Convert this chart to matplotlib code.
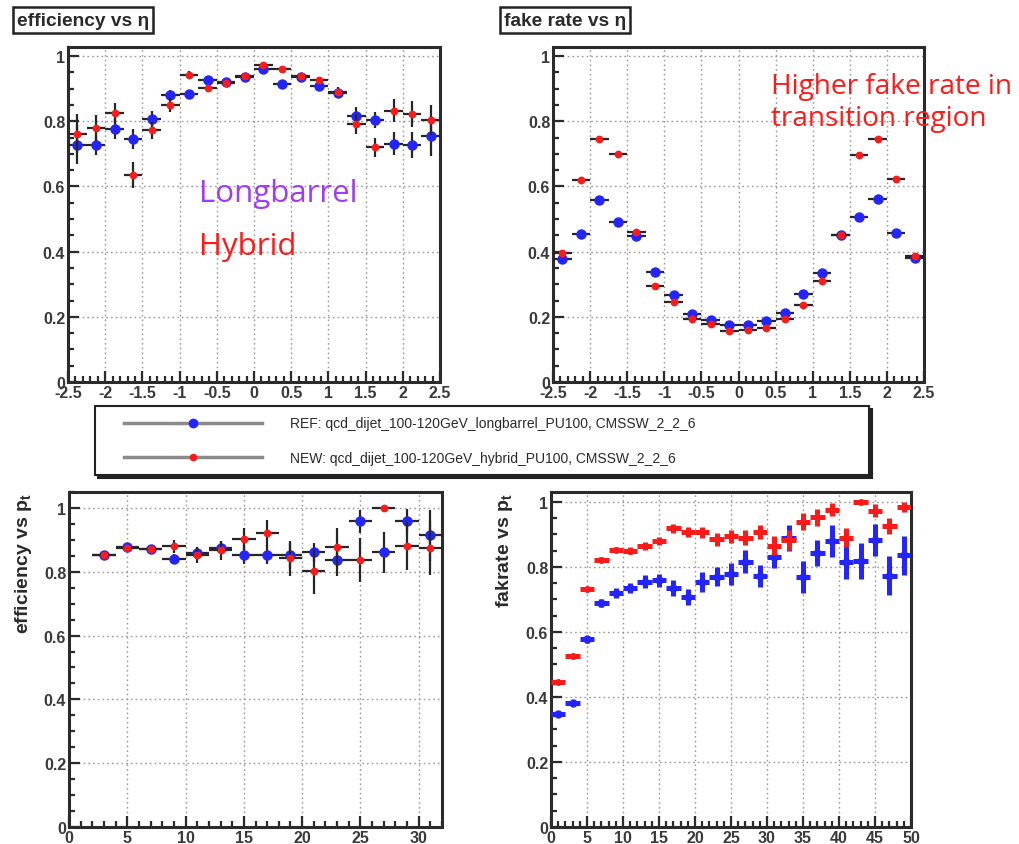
import numpy as np
import matplotlib
matplotlib.use("Agg")
import matplotlib.pyplot as plt
from matplotlib.ticker import MultipleLocator
from matplotlib.lines import Line2D
from matplotlib.legend_handler import HandlerLine2D

# ---- data -------------------------------------------------------------
eta_centers = [-2.375, -2.125, -1.875, -1.625, -1.375, -1.125, -0.875, -0.625, -0.375, -0.125,
               0.125, 0.375, 0.625, 0.875, 1.125, 1.375, 1.625, 1.875, 2.125, 2.375]
eta_halfwidth = 0.125

eff_eta_ref = [0.728, 0.728, 0.777, 0.745, 0.807, 0.882, 0.884, 0.927, 0.920, 0.937,
               0.961, 0.914, 0.936, 0.907, 0.887, 0.815, 0.803, 0.731, 0.728, 0.755]
eff_eta_ref_err = [0.06, 0.03, 0.03, 0.03, 0.025, 0.015, 0.012, 0.01, 0.01, 0.008,
                   0.008, 0.008, 0.008, 0.01, 0.012, 0.03, 0.025, 0.035, 0.04, 0.06]
eff_eta_new = [0.762, 0.779, 0.825, 0.636, 0.772, 0.850, 0.942, 0.901, 0.918, 0.940,
               0.973, 0.961, 0.940, 0.927, 0.889, 0.791, 0.720, 0.832, 0.823, 0.804]
eff_eta_new_err = [0.06, 0.04, 0.03, 0.04, 0.025, 0.02, 0.012, 0.01, 0.01, 0.008,
                   0.008, 0.008, 0.008, 0.01, 0.015, 0.03, 0.03, 0.035, 0.04, 0.045]

fake_eta_ref = [0.377, 0.454, 0.559, 0.491, 0.448, 0.338, 0.267, 0.210, 0.190, 0.175,
                0.175, 0.187, 0.212, 0.270, 0.336, 0.452, 0.505, 0.563, 0.458, 0.379]
fake_eta_ref_err = [0.006] * 20
fake_eta_new = [0.396, 0.619, 0.746, 0.701, 0.460, 0.296, 0.244, 0.193, 0.177, 0.156,
                0.159, 0.165, 0.193, 0.236, 0.311, 0.450, 0.698, 0.746, 0.623, 0.388]
fake_eta_new_err = [0.005] * 20

pt_eff_centers = [3, 5, 7, 9, 11, 13, 15, 17, 19, 21, 23, 25, 27, 29, 31]
pt_halfwidth = 1.0
eff_pt_ref = [0.853, 0.877, 0.872, 0.840, 0.859, 0.875, 0.853, 0.853, 0.851, 0.861,
              0.837, 0.958, 0.861, 0.958, 0.914]
eff_pt_ref_err = [0.005, 0.008, 0.01, 0.015, 0.02, 0.02, 0.03, 0.03, 0.04, 0.03,
                  0.05, 0.035, 0.065, 0.04, 0.08]
eff_pt_new = [0.853, 0.876, 0.872, 0.880, 0.854, 0.867, 0.902, 0.922, 0.842, 0.801,
              0.877, 0.837, 1.000, 0.880, 0.874]
eff_pt_new_err = [0.005, 0.008, 0.01, 0.02, 0.025, 0.03, 0.035, 0.04, 0.055, 0.07,
                  0.06, 0.07, 0.0, 0.075, 0.085]

pt_fake_centers = [1, 3, 5, 7, 9, 11, 13, 15, 17, 19, 21, 23, 25, 27, 29, 31, 33, 35, 37,
                   39, 41, 43, 45, 47, 49]
fake_pt_ref = [0.347, 0.381, 0.577, 0.688, 0.720, 0.736, 0.754, 0.759, 0.735, 0.707,
               0.754, 0.770, 0.778, 0.816, 0.772, 0.831, 0.890, 0.769, 0.842, 0.880,
               0.816, 0.819, 0.883, 0.773, 0.836]
fake_pt_ref_err = [0.005, 0.007, 0.01, 0.012, 0.015, 0.015, 0.02, 0.02, 0.025, 0.025,
                   0.03, 0.03, 0.035, 0.035, 0.035, 0.035, 0.04, 0.05, 0.04, 0.05,
                   0.055, 0.055, 0.05, 0.06, 0.06]
fake_pt_new = [0.445, 0.527, 0.732, 0.822, 0.852, 0.850, 0.865, 0.879, 0.918, 0.906,
               0.906, 0.885, 0.894, 0.890, 0.906, 0.865, 0.883, 0.939, 0.952, 0.975,
               0.890, 1.000, 0.972, 0.926, 0.983]
fake_pt_new_err = [0.004, 0.005, 0.006, 0.007, 0.008, 0.01, 0.012, 0.013, 0.014, 0.015,
                   0.017, 0.02, 0.02, 0.022, 0.022, 0.03, 0.03, 0.025, 0.025, 0.02,
                   0.03, 0.003, 0.02, 0.025, 0.015]

ref_label = "REF: qcd_dijet_100-120GeV_longbarrel_PU100, CMSSW_2_2_6"
new_label = "NEW: qcd_dijet_100-120GeV_hybrid_PU100, CMSSW_2_2_6"

# ---- style --------------------------------------------------------------
BLUE = "#2424ff"
RED = "#ff1a1a"
FRAME = "#2b2b2b"
LABEL_FONT = "Liberation Sans"

W, H = 1019, 845
fig = plt.figure(figsize=(W / 100, H / 100), dpi=100)


def box(x0, y0, x1, y1):
    """Axes rectangle from pixel edges (top-left origin)."""
    return [x0 / W, 1 - y1 / H, (x1 - x0) / W, (y1 - y0) / H]


def fmt_label(v, pos=None):
    if abs(v - round(v)) < 1e-9:
        return "%d" % round(v)
    return "%g" % v


def style_axes(ax, xlim, ylim, xmajor, xminor):
    ax.set_xlim(*xlim)
    ax.set_ylim(*ylim)
    ax.xaxis.set_major_locator(MultipleLocator(xmajor))
    ax.xaxis.set_minor_locator(MultipleLocator(xminor))
    ax.yaxis.set_major_locator(MultipleLocator(0.2))
    ax.yaxis.set_minor_locator(MultipleLocator(0.05))
    ax.xaxis.set_major_formatter(fmt_label)
    ax.yaxis.set_major_formatter(fmt_label)
    ax.tick_params(which="both", direction="in", top=False, right=False,
                   color=FRAME, width=1.6)
    ax.tick_params(which="major", length=8, pad=2)
    ax.tick_params(which="minor", length=4)
    for lab in ax.get_xticklabels() + ax.get_yticklabels():
        lab.set_fontfamily(LABEL_FONT)
        lab.set_fontweight("bold")
        lab.set_fontsize(11.5)
        lab.set_color("#3a3a3a")
    ax.grid(True, which="major", color="#9a9a9a", linestyle=(0, (1.2, 2.2)), linewidth=1.0)
    ax.set_axisbelow(True)
    for s in ax.spines.values():
        s.set_linewidth(2.2)
        s.set_color(FRAME)


def draw_pair(ax, x, hw, yr, er, yn, en, colored=False):
    xe = [hw] * len(x)
    if colored:
        ax.errorbar(x, yr, yerr=er, xerr=xe, fmt="o", color=BLUE, ms=5,
                    ecolor=BLUE, elinewidth=3.6, capsize=0, zorder=3)
        ax.errorbar(x, yn, yerr=en, xerr=xe, fmt="o", color=RED, ms=4,
                    ecolor=RED, elinewidth=3.6, capsize=0, zorder=4)
    else:
        ax.errorbar(x, yr, yerr=er, xerr=xe, fmt="o", color=BLUE, ms=6.5,
                    ecolor="#262626", elinewidth=1.6, capsize=0, zorder=3)
        ax.errorbar(x, yn, yerr=en, xerr=xe, fmt="o", color=RED, ms=4.6,
                    ecolor="#262626", elinewidth=1.6, capsize=0, zorder=4)


# ---- top left: efficiency vs eta ----------------------------------------
ax1 = fig.add_axes(box(68, 48, 440, 383))
draw_pair(ax1, eta_centers, eta_halfwidth, eff_eta_ref, eff_eta_ref_err,
          eff_eta_new, eff_eta_new_err)
style_axes(ax1, (-2.5, 2.5), (0, 1.028), 0.5, 0.1)
ax1.text(-0.74, 0.554, "Longbarrel", color="#a03cf5", fontsize=22.5, family="Open Sans")
ax1.text(-0.74, 0.394, "Hybrid", color=RED, fontsize=22.5, family="Open Sans")

# ---- top right: fake rate vs eta ----------------------------------------
ax2 = fig.add_axes(box(553, 48, 924, 383))
draw_pair(ax2, eta_centers, eta_halfwidth, fake_eta_ref, fake_eta_ref_err,
          fake_eta_new, fake_eta_new_err)
style_axes(ax2, (-2.5, 2.5), (0, 1.028), 0.5, 0.1)
ax2.text(0.44, 0.886, "Higher fake rate in", color=RED, fontsize=20.2, family="Open Sans",
         clip_on=False)
ax2.text(0.44, 0.79, "transition region", color=RED, fontsize=20.2, family="Open Sans",
         clip_on=False)

# ---- bottom left: efficiency vs pt ---------------------------------------
ax3 = fig.add_axes(box(69, 493, 442, 828))
draw_pair(ax3, pt_eff_centers, pt_halfwidth, eff_pt_ref, eff_pt_ref_err,
          eff_pt_new, eff_pt_new_err)
style_axes(ax3, (0, 32), (0, 1.05), 5, 1)
ax3.set_ylabel("efficiency vs p$_{\\mathregular{t}}$", loc="top", fontsize=14,
               fontweight="bold", family=LABEL_FONT, color="#2a2a2a")
ax3.yaxis.set_label_coords(-0.095, 1.0)

# ---- bottom right: fake rate vs pt ---------------------------------------
ax4 = fig.add_axes(box(551, 493, 911, 828))
draw_pair(ax4, pt_fake_centers, pt_halfwidth, fake_pt_ref, fake_pt_ref_err,
          fake_pt_new, fake_pt_new_err, colored=True)
style_axes(ax4, (0, 50), (0, 1.03), 5, 1)
ax4.set_ylabel("fakrate vs p$_{\\mathregular{t}}$", loc="top", fontsize=14,
               fontweight="bold", family=LABEL_FONT, color="#2a2a2a")
ax4.yaxis.set_label_coords(-0.1, 1.0)

# ---- pad titles -----------------------------------------------------------
title_box = dict(boxstyle="square,pad=0.22", facecolor="white", edgecolor="#222222",
                 linewidth=1.8)
fig.text(17 / W, 1 - 21 / H, "efficiency vs \u03b7", fontsize=13.8, fontweight="bold",
         family=LABEL_FONT, color="#2a2a2a", va="center", ha="left", bbox=title_box)
fig.text(504 / W, 1 - 21 / H, "fake rate vs \u03b7", fontsize=13.8, fontweight="bold",
         family=LABEL_FONT, color="#2a2a2a", va="center", ha="left", bbox=title_box)

# ---- shared legend ---------------------------------------------------------
handles = [
    Line2D([0], [0], color="#8a8a8a", lw=2.5, marker="o", ms=6, mfc=BLUE, mec=BLUE),
    Line2D([0], [0], color="#8a8a8a", lw=2.5, marker="o", ms=4.5, mfc=RED, mec=RED),
]
pad_handler = HandlerLine2D(xpad=1.37)
leg = fig.legend(handles, [ref_label, new_label], loc="upper left",
                 bbox_to_anchor=(95 / W, 1 - 473 / H, 774 / W, 66 / H), mode="expand",
                 fontsize=10, handlelength=11.3, handletextpad=2.0, labelspacing=1.45,
                 borderpad=0.75, borderaxespad=0, fancybox=False, frameon=True,
                 edgecolor="#222222", shadow={"color": "#222222", "alpha": 1.0},
                 handler_map={h: pad_handler for h in handles})
leg.get_frame().set_linewidth(1.5)
for t in leg.get_texts():
    t.set_fontfamily(LABEL_FONT)
    t.set_color("#2a2a2a")

fig.savefig("out.png", dpi=100)
